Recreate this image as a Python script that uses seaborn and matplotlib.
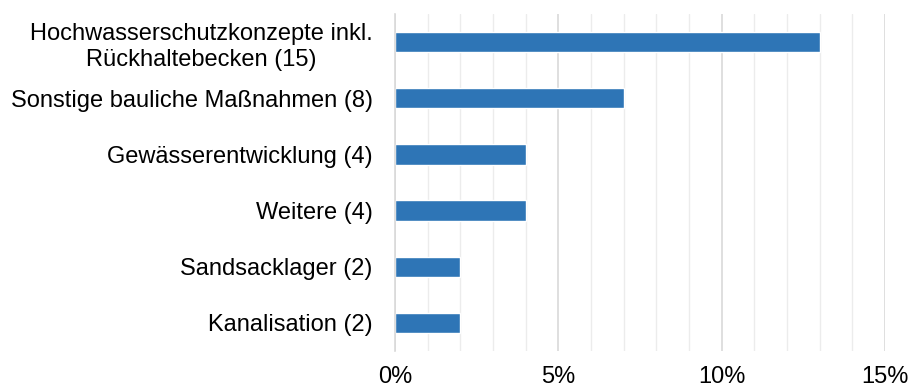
import matplotlib
matplotlib.use("Agg")
import matplotlib.pyplot as plt
from matplotlib.ticker import MultipleLocator, FuncFormatter
import seaborn as sns
import pandas as pd

categories = [
    "Hochwasserschutzkonzepte inkl.\nRückhaltebecken (15)",
    "Sonstige bauliche Maßnahmen (8)",
    "Gewässerentwicklung (4)",
    "Weitere (4)",
    "Sandsacklager (2)",
    "Kanalisation (2)",
]
shares = [13, 7, 4, 4, 2, 2]
x_ticks = [0, 5, 10, 15]

df = pd.DataFrame({"Kategorie": categories, "Anteil": shares})

sns.set_style("white")
plt.rcParams["font.family"] = ["Liberation Sans", "DejaVu Sans"]

fig = plt.figure(figsize=(9.09, 3.9), dpi=100)
ax = fig.add_axes([0.4345, 0.10, 0.5391, 0.864])

sns.barplot(data=df, y="Kategorie", x="Anteil", orient="h", color="#2E75B6",
            saturation=1, width=0.36, ax=ax)

ax.set_xlim(0, 15)
ax.set_xticks(x_ticks)
ax.xaxis.set_minor_locator(MultipleLocator(1))
ax.xaxis.set_major_formatter(FuncFormatter(lambda v, p: f"{v:.0f}%"))
ax.grid(axis="x", which="major", color="#d9d9d9", linewidth=1.2)
ax.grid(axis="x", which="minor", color="#ececec", linewidth=1.0)
ax.set_axisbelow(True)

for s in ["top", "right", "bottom"]:
    ax.spines[s].set_visible(False)
ax.spines["left"].set_color("#d9d9d9")
ax.spines["left"].set_linewidth(1.2)

ax.set_xlabel("")
ax.set_ylabel("")
ax.tick_params(axis="both", which="both", length=0, labelsize=17,
               colors="#000000")
ax.tick_params(axis="y", pad=16)
ax.tick_params(axis="x", pad=11)
for lbl in ax.get_yticklabels():
    lbl.set_multialignment("center")
    lbl.set_linespacing(1.25)

fig.savefig("out.png", dpi=100, facecolor="white")
